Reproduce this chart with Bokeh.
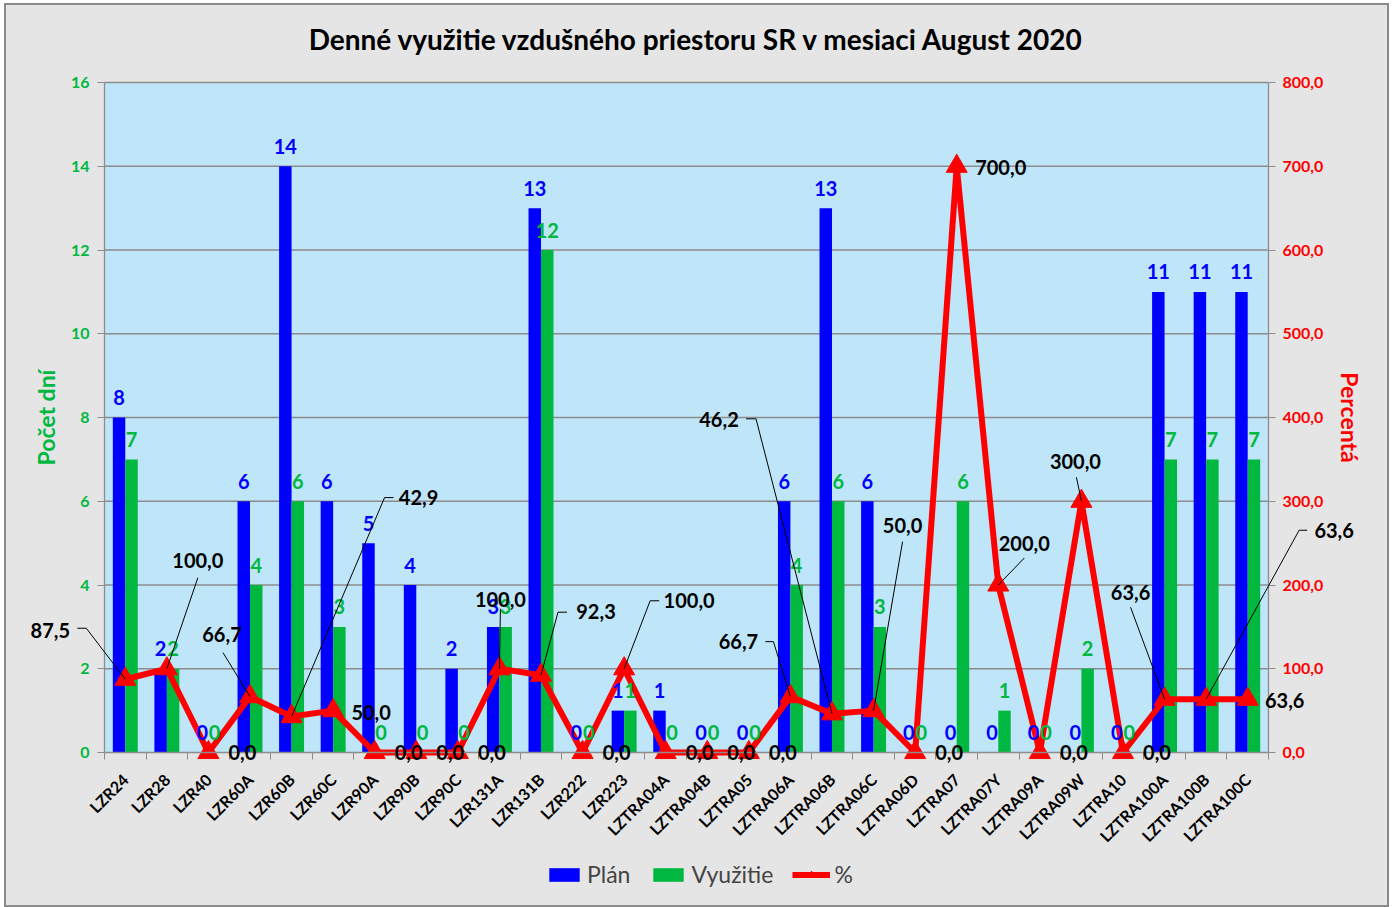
import math
from bokeh.plotting import figure
from bokeh.models import (ColumnDataSource, LinearAxis, Range1d, FixedTicker,
                          LabelSet, Legend, LegendItem, Arrow)
from bokeh.transform import dodge
from bokeh.core.properties import value
from bokeh.embed import file_html
from bokeh.resources import INLINE

# ---------------- data ----------------
categories = ["LZR24", "LZR28", "LZR40", "LZR60A", "LZR60B", "LZR60C", "LZR90A",
              "LZR90B", "LZR90C", "LZR131A", "LZR131B", "LZR222", "LZR223",
              "LZTRA04A", "LZTRA04B", "LZTRA05", "LZTRA06A", "LZTRA06B",
              "LZTRA06C", "LZTRA06D", "LZTRA07", "LZTRA07Y", "LZTRA09A",
              "LZTRA09W", "LZTRA10", "LZTRA100A", "LZTRA100B", "LZTRA100C"]
plan = [8, 2, 0, 6, 14, 6, 5, 4, 2, 3, 13, 0, 1, 1, 0, 0, 6, 13, 6, 0, 0, 0, 0, 0, 0, 11, 11, 11]
vyuzitie = [7, 2, 0, 4, 6, 3, 0, 0, 0, 3, 12, 0, 1, 0, 0, 0, 4, 6, 3, 0, 6, 1, 0, 2, 0, 7, 7, 7]
percent = [87.5, 100.0, 0.0, 66.7, 42.9, 50.0, 0.0, 0.0, 0.0, 100.0, 92.3, 0.0, 100.0,
           0.0, 0.0, 0.0, 66.7, 46.2, 50.0, 0.0, 700.0, 200.0, 0.0, 300.0, 0.0,
           63.6, 63.6, 63.6]
left_ticks = [0, 2, 4, 6, 8, 10, 12, 14, 16]
right_ticks = [0, 100, 200, 300, 400, 500, 600, 700, 800]
title_text = "Denné využitie vzdušného priestoru SR v mesiaci August 2020"

# ---------------- layout / styling ----------------
FONT = "Lato"
FIG_W, FIG_H = 1381, 900
TOP = 62                       # height of the title panel
PLOT_L, PLOT_R = 98, 1262      # plot-area edges (figure px)
PLOT_T, PLOT_B = 77, 747
N = len(categories)
PX_PER_CAT = (PLOT_R - PLOT_L) / N
PX_PER_L = (PLOT_B - PLOT_T) / (left_ticks[-1] - left_ticks[0])
PX_PER_PCT = (PLOT_B - PLOT_T) / (right_ticks[-1] - right_ticks[0])

x_lo, x_hi = -0.5, N - 0.5
x_start = x_lo - PLOT_L / PX_PER_CAT
x_end = x_hi + (FIG_W - PLOT_R) / PX_PER_CAT
yl_start = left_ticks[0] - (FIG_H - PLOT_B) / PX_PER_L
yl_end = left_ticks[-1] + (PLOT_T - TOP) / PX_PER_L
yp_start = right_ticks[0] - (FIG_H - PLOT_B) / PX_PER_PCT
yp_end = right_ticks[-1] + (PLOT_T - TOP) / PX_PER_PCT

BLUE = "#0000FF"
GREEN = "#00B840"
RED = "#FF0000"
GRID = "#8C8C8C"
PLOT_BG = "#BEE5F8"
OUTER_BG = "#E5E5E5"

# percentage label placement: text offset (dx, dy screen px, dy down) and leader points
label_layout = {
    0: ((-75, -49), [(-39, -51), (-48, -51)]),
    1: ((31, -108), [(31, -91)]),
    3: ((-28, -62), [(-27, -44)]),
    4: ((127, -219), [(93, -219), (102, -219)]),
    5: ((38, 2), []),
    9: ((1, -69), [(1, -60)]),
    10: ((55, -64), [(17, -63), (26, -63)]),
    12: ((65, -68), [(26, -68), (35, -68)]),
    16: ((-52, -55), [(-17, -55), (-25, -55)]),
    17: ((-113, -294), [(-76, -295), (-86, -295)]),
    18: ((29, -185), [(29, -169)]),
    20: ((44, 1), []),
    21: ((26, -42), [(26, -27)]),
    23: ((-6, -40), [(-5, -24)]),
    25: ((-34, -107), [(-34, -92)]),
    26: ((128, -169), [(93, -169), (101, -169)]),
    27: ((37, 1), []),
}
ZERO_LAYOUT = ((34, 0), [])

idx = list(range(N))
src = ColumnDataSource(dict(
    idx=idx, plan=plan, vyuzitie=vyuzitie,
    plan_txt=[str(v) for v in plan], vyu_txt=[str(v) for v in vyuzitie],
))

lab_dx, lab_dy, lab_txt = [], [], []
x0s, y0s, x1s, y1s = [], [], [], []
for i, v in enumerate(percent):
    (dx, dy), leader = label_layout.get(i, ZERO_LAYOUT)
    lab_dx.append(dx)
    lab_dy.append(-dy)
    lab_txt.append(f"{v:.1f}".replace(".", ","))
    prev = (0, 0)
    for pt in leader:
        x0s.append(i + prev[0] / PX_PER_CAT)
        y0s.append(v - prev[1] / PX_PER_PCT)
        x1s.append(i + pt[0] / PX_PER_CAT)
        y1s.append(v - pt[1] / PX_PER_PCT)
        prev = pt

pct_src = ColumnDataSource(dict(idx=idx, pct=percent, txt=lab_txt, dx=lab_dx, dy=lab_dy))
lead_src = ColumnDataSource(dict(x0=x0s, y0=y0s, x1=x1s, y1=y1s))

p = figure(width=FIG_W, height=FIG_H, x_range=Range1d(x_start, x_end),
           y_range=Range1d(yl_start, yl_end),
           output_backend="svg", toolbar_location=None,
           min_border_left=0, min_border_right=0, min_border_top=TOP, min_border_bottom=0,
           background_fill_color=OUTER_BG, background_fill_alpha=0,
           border_fill_color=OUTER_BG, border_fill_alpha=0)
p.styles = {"margin": "5px 0px 0px 6px", "outline": "2px solid #8A8A8A",
            "background-color": OUTER_BG}
p.outline_line_color = None
p.extra_y_ranges = {"pct": Range1d(yp_start, yp_end)}
p.xgrid.visible = False
p.ygrid.visible = False

p.title.text = title_text
p.title.text_font = FONT
p.title.text_font_size = "28px"
p.title.text_font_style = "bold"
p.title.text_color = "black"
p.title.align = "center"
p.title.standoff = 24

# plot area background and horizontal grid lines
p.quad(left=x_lo, right=x_hi, bottom=left_ticks[0], top=left_ticks[-1],
       fill_color=PLOT_BG, line_color=None)
p.segment(x0=x_lo, x1=x_hi, y0=left_ticks[1:], y1=left_ticks[1:],
          line_color=GRID, line_width=1.3)

# left axis
ya = p.yaxis[0]
ya.fixed_location = x_lo
ya.bounds = (left_ticks[0], left_ticks[-1])
ya.ticker = FixedTicker(ticks=left_ticks, minor_ticks=[])
ya.axis_label = "Počet dní"
ya.axis_label_text_font = FONT
ya.axis_label_text_font_size = "23px"
ya.axis_label_text_font_style = "bold"
ya.axis_label_text_color = GREEN
ya.axis_label_standoff = 8
ya.major_label_text_font = FONT
ya.major_label_text_font_size = "16px"
ya.major_label_text_font_style = "bold"
ya.major_label_text_color = GREEN
ya.major_label_standoff = 8
ya.axis_line_color = GRID
ya.axis_line_width = 1.3
ya.major_tick_line_color = GRID
ya.major_tick_in = 0
ya.major_tick_out = 7

# right axis
ra = LinearAxis(y_range_name="pct", ticker=FixedTicker(ticks=right_ticks, minor_ticks=[]))
ra.fixed_location = x_hi
ra.bounds = (right_ticks[0], right_ticks[-1])
ra.major_label_overrides = {t: f"{t},0" for t in right_ticks}
ra.axis_label = "Percentá"
ra.axis_label_text_font = FONT
ra.axis_label_text_font_size = "23px"
ra.axis_label_text_font_style = "bold"
ra.axis_label_text_color = RED
ra.axis_label_standoff = 10
ra.major_label_text_font = FONT
ra.major_label_text_font_size = "16px"
ra.major_label_text_font_style = "bold"
ra.major_label_text_color = RED
ra.major_label_standoff = 7
ra.axis_line_color = GRID
ra.axis_line_width = 1.3
ra.major_tick_line_color = GRID
ra.major_tick_in = 0
ra.major_tick_out = 7
p.add_layout(ra, "right")

# bottom axis
xa = p.xaxis[0]
xa.fixed_location = left_ticks[0]
xa.bounds = (x_lo, x_hi)
xa.ticker = FixedTicker(ticks=idx, minor_ticks=[i - 0.5 for i in range(N + 1)])
xa.major_label_overrides = {i: c for i, c in enumerate(categories)}
xa.major_label_orientation = math.pi / 4
xa.major_label_text_font = FONT
xa.major_label_text_font_size = "16px"
xa.major_label_text_font_style = "bold"
xa.major_label_text_color = "black"
xa.major_label_standoff = 17
xa.major_tick_line_color = None
xa.minor_tick_line_color = GRID
xa.minor_tick_in = 0
xa.minor_tick_out = 7
xa.axis_line_color = GRID
xa.axis_line_width = 1.3

# bars
r_plan = p.vbar(x=dodge("idx", -0.15), top="plan", width=0.3, source=src,
                fill_color=BLUE, line_color=None)
r_vyu = p.vbar(x=dodge("idx", 0.15), top="vyuzitie", width=0.3, source=src,
               fill_color=GREEN, line_color=None)

# line
r_line = p.line(x="idx", y="pct", source=pct_src, y_range_name="pct",
                 line_color=RED, line_width=6, line_join="round")
r_mark = p.scatter(x="idx", y="pct", source=pct_src, y_range_name="pct",
                   marker="triangle", size=21, fill_color=RED, line_color=RED)

# bar labels
for fld, txt, off, col in (("plan", "plan_txt", -0.15, BLUE), ("vyuzitie", "vyu_txt", 0.15, GREEN)):
    p.add_layout(LabelSet(x=dodge("idx", off), y=fld, text=txt, source=src,
                          text_align="center", text_baseline="middle", y_offset=20,
                          text_font=value(FONT), text_font_size="20px", text_font_style="bold",
                          text_color=col))

# leader lines
p.add_layout(Arrow(start=None, end=None, x_start="x0", y_start="y0", x_end="x1", y_end="y1",
                   source=lead_src, y_range_name="pct", line_color="black", line_width=1))

# percentage labels
p.add_layout(LabelSet(x="idx", y="pct", text="txt", source=pct_src, y_range_name="pct",
                      x_offset="dx", y_offset="dy", text_align="center", text_baseline="middle",
                      text_font=value(FONT), text_font_size="20px", text_font_style="bold",
                      text_color="black"))

# legend
legend = Legend(items=[LegendItem(label="Plán", renderers=[r_plan]),
                       LegendItem(label="Využitie", renderers=[r_vyu]),
                       LegendItem(label="%", renderers=[r_line, r_mark])],
                location=(539, 17), orientation="horizontal",
                border_line_color=None, background_fill_alpha=0,
                label_text_font=FONT, label_text_font_size="23px",
                glyph_width=38, glyph_height=17, label_standoff=4, spacing=19,
                padding=0, margin=0)
p.add_layout(legend)

open("out.html", "w").write(file_html(p, INLINE))
